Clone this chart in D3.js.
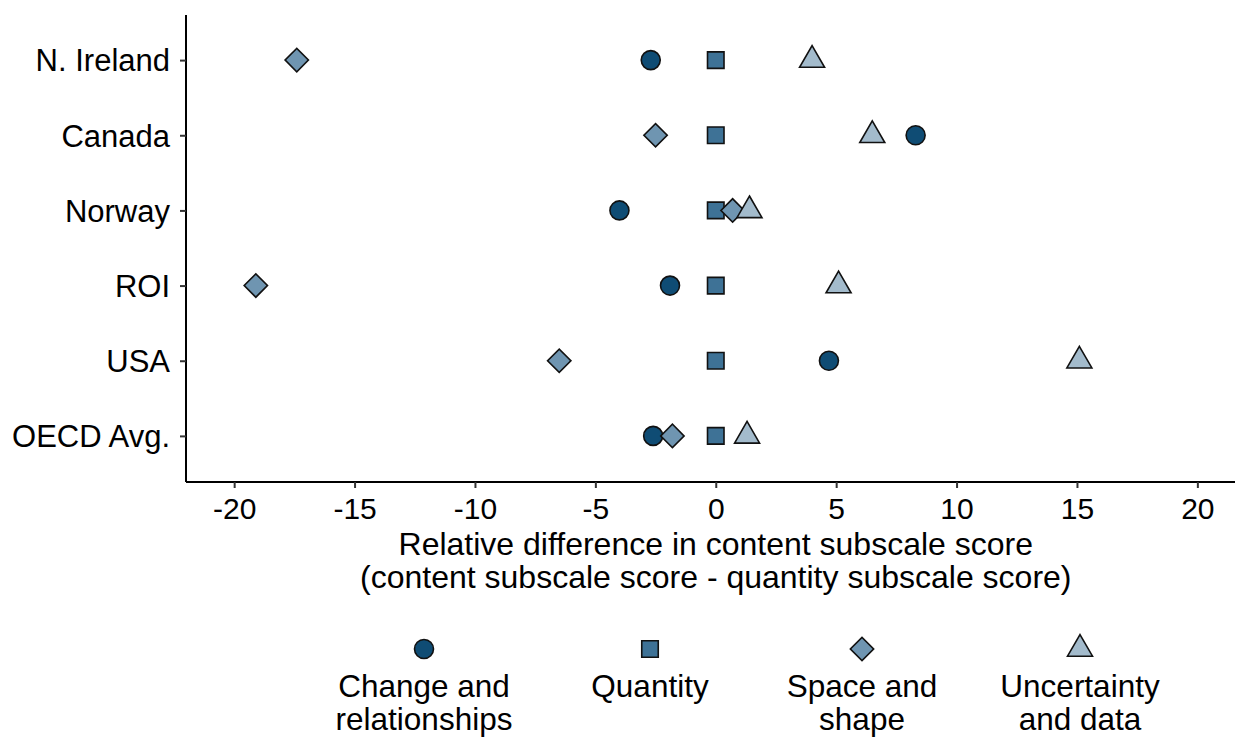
<!DOCTYPE html>
<html>
<head>
<meta charset="utf-8">
<script src="https://cdn.jsdelivr.net/npm/d3@7"></script>
<style>
  html, body { margin: 0; padding: 0; background: #fff; }
  svg { display: block; }
  text { font-family: "Liberation Sans", Arial, sans-serif; fill: #000; }
</style>
</head>
<body>
<svg id="chart" width="1235" height="738"></svg>
<script>
// ---- data ----
const countries = ["N. Ireland", "Canada", "Norway", "ROI", "USA", "OECD Avg."];
const seriesNames = ["Change and relationships", "Quantity", "Space and shape", "Uncertainty and data"];
const legendLines = [["Change and", "relationships"], ["Quantity"], ["Space and", "shape"], ["Uncertainty", "and data"]];
const changeRel   = [-2.7,  8.3, -4.0, -1.9,  4.7, -2.6];
const quantity    = [ 0,    0,    0,    0,    0,    0  ];
const spaceShape  = [-17.4, -2.5, 0.7, -19.1, -6.5, -1.8];
const uncertainty = [ 4.0,  6.5,  1.4,  5.1, 15.1,  1.3];
const xTicks = [-20, -15, -10, -5, 0, 5, 10, 15, 20];
const xTitle = ["Relative difference in content subscale score", "(content subscale score - quantity subscale score)"];

const seriesValues = [changeRel, quantity, spaceShape, uncertainty];
const fills = ["#0f4c74", "#3e7296", "#6f95b1", "#a3bbcc"];
const FS_TICK = 30, FS_Y = 31, FS_TITLE = 32, FS_LEG = 31.5;

const svg = d3.select("#chart");

const x = d3.scaleLinear().domain([-22, 22]).range([186, 186 + 44 * 24.08]);
const y = d3.scalePoint().domain(countries).range([15, 481]).padding(0.6);

// symbol generators
function symbolPath(i) {
  if (i === 0) return d3.symbol(d3.symbolCircle, Math.PI * 9.5 * 9.5)();
  if (i === 1) return d3.symbol(d3.symbolSquare, 16.5 * 16.5)();
  if (i === 2) return d3.symbol(d3.symbolSquare, 16.5 * 16.5)();
  return d3.symbol(d3.symbolTriangle, (Math.sqrt(3) / 4) * 25 * 25)();
}
function symbolRotate(i) { return i === 2 ? " rotate(45)" : ""; }

// axes
const xAxis = d3.axisBottom(x).tickValues(xTicks).tickSize(6).tickPadding(8).tickFormat(d => String(d));
const gx = svg.append("g").attr("transform", "translate(0,482)").call(xAxis);
gx.select(".domain").attr("stroke", "#000").attr("stroke-width", 2).attr("d", `M${x.range()[0]},0H${x.range()[1]}`);
gx.selectAll(".tick line").attr("stroke", "#333").attr("stroke-width", 2);
gx.selectAll(".tick text").attr("font-size", FS_TICK).attr("dy", null).attr("y", 37)
  .style("font-family", '"Liberation Sans", Arial, sans-serif').attr("fill", "#000");

const yAxis = d3.axisLeft(y).tickSize(6).tickPadding(8);
const gy = svg.append("g").attr("transform", "translate(186,0)").call(yAxis);
gy.select(".domain").attr("stroke", "#000").attr("stroke-width", 2).attr("d", "M0,15V482");
gy.selectAll(".tick line").attr("stroke", "#333").attr("stroke-width", 2);
gy.selectAll(".tick text").attr("font-size", FS_Y).attr("dy", "0.35em").attr("x", -16)
  .style("font-family", '"Liberation Sans", Arial, sans-serif').attr("fill", "#000");

// x title
svg.append("g").selectAll("text").data(xTitle).join("text")
  .attr("x", x(0)).attr("y", (d, i) => 555 + i * 33)
  .attr("text-anchor", "middle").attr("font-size", FS_TITLE).text(d => d);

// points
const pts = [];
seriesValues.forEach((vals, si) => vals.forEach((v, ci) => pts.push({ si, country: countries[ci], v })));
svg.append("g").selectAll("path").data(pts).join("path")
  .attr("transform", d => `translate(${x(d.v)},${y(d.country)})${symbolRotate(d.si)}`)
  .attr("d", d => symbolPath(d.si))
  .attr("fill", d => fills[d.si])
  .attr("stroke", "#111").attr("stroke-width", 1.6);

// legend
const legendX = [424, 650, 862, 1080];
const lg = svg.append("g").selectAll("g").data(seriesNames).join("g")
  .attr("transform", (d, i) => `translate(${legendX[i]},0)`);
lg.append("path")
  .attr("transform", (d, i) => `translate(0,649)${symbolRotate(i)}`)
  .attr("d", (d, i) => symbolPath(i))
  .attr("fill", (d, i) => fills[i])
  .attr("stroke", "#111").attr("stroke-width", 1.6);
lg.each(function(d, i) {
  d3.select(this).selectAll("text").data(legendLines[i]).join("text")
    .attr("x", 0).attr("y", (t, j) => 697 + j * 33)
    .attr("text-anchor", "middle").attr("font-size", FS_LEG).text(t => t);
});
</script>
</body>
</html>
